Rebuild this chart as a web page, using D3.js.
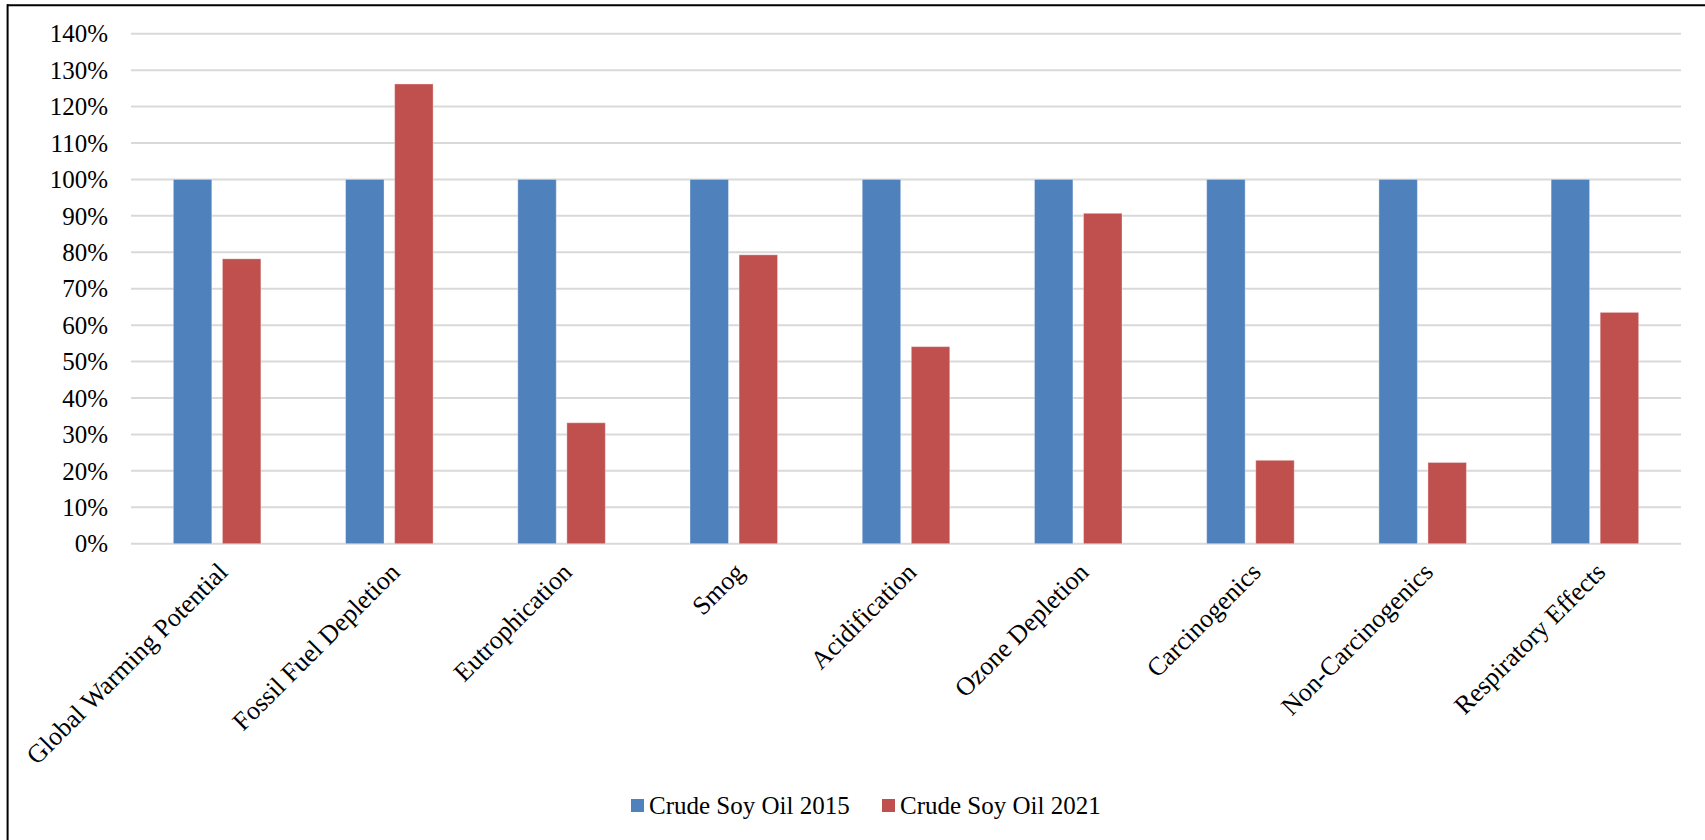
<!DOCTYPE html>
<html>
<head>
<meta charset="utf-8">
<script src="https://cdn.jsdelivr.net/npm/d3@7"></script>
<style>
  html, body { margin: 0; padding: 0; background: #fff; }
  svg { display: block; }
  text { font-family: "Liberation Serif", "DejaVu Serif", serif; fill: #000; }
</style>
</head>
<body>
<svg id="chart" width="1705" height="840"></svg>
<script>
const categories = ["Global Warming Potential", "Fossil Fuel Depletion", "Eutrophication", "Smog",
  "Acidification", "Ozone Depletion", "Carcinogenics", "Non-Carcinogenics", "Respiratory Effects"];
const seriesNames = ["Crude Soy Oil 2015", "Crude Soy Oil 2021"];
const values2015 = [1.00, 1.00, 1.00, 1.00, 1.00, 1.00, 1.00, 1.00, 1.00];
const values2021 = [0.782, 1.262, 0.332, 0.793, 0.541, 0.907, 0.229, 0.223, 0.635];
const yTicks = [0, 0.1, 0.2, 0.3, 0.4, 0.5, 0.6, 0.7, 0.8, 0.9, 1.0, 1.1, 1.2, 1.3, 1.4];
const colors = ["#4F81BD", "#C0504D"];

const svg = d3.select("#chart");
const plot = { left: 131, right: 1681, top: 33.7, bottom: 543.7 };

const x0 = d3.scaleBand().domain(categories).range([plot.left, plot.right]).paddingInner(0).paddingOuter(0);
const x1 = d3.scaleBand().domain(seriesNames).range([0, x0.bandwidth()]).paddingInner(0.216).paddingOuter(0.863);
const y = d3.scaleLinear().domain([0, 1.4]).range([plot.bottom, plot.top]);
const color = d3.scaleOrdinal().domain(seriesNames).range(colors);

// outer frame (only top and left visible)
svg.append("line").attr("x1", 7).attr("x2", 1705).attr("y1", 5.2).attr("y2", 5.2)
  .attr("stroke", "#000").attr("stroke-width", 2);
svg.append("line").attr("x1", 7.6).attr("x2", 7.6).attr("y1", 4.2).attr("y2", 840)
  .attr("stroke", "#000").attr("stroke-width", 2);

// gridlines
svg.append("g")
  .selectAll("line").data(yTicks).join("line")
  .attr("x1", plot.left).attr("x2", plot.right)
  .attr("y1", d => y(d)).attr("y2", d => y(d))
  .attr("stroke", "#d9d9d9").attr("stroke-width", 2);

// y axis labels
const yAxis = d3.axisLeft(y).tickValues(yTicks).tickFormat(d3.format(".0%")).tickSize(0).tickPadding(0);
const yg = svg.append("g").attr("transform", `translate(${108},0)`).call(yAxis);
yg.select(".domain").remove();
yg.selectAll("text").attr("font-size", 25).attr("font-family", "Liberation Serif, serif").attr("fill", "#000").attr("dy", "0.33em");

// bars
const data = categories.map((c, i) => ({ cat: c, vals: [
  { s: seriesNames[0], v: values2015[i] },
  { s: seriesNames[1], v: values2021[i] } ] }));

const groups = svg.append("g").selectAll("g").data(data).join("g")
  .attr("transform", d => `translate(${x0(d.cat)},0)`);
groups.selectAll("rect").data(d => d.vals).join("rect")
  .attr("x", d => x1(d.s))
  .attr("y", d => y(d.v))
  .attr("width", x1.bandwidth())
  .attr("height", d => y(0) - y(d.v))
  .attr("fill", d => color(d.s))
  .attr("stroke", "#ffffff").attr("stroke-opacity", 0.35).attr("stroke-width", 1);

// x axis labels rotated
const xAxis = d3.axisBottom(x0).tickSize(0).tickPadding(0);
const xg = svg.append("g").attr("transform", `translate(0,${plot.bottom})`).call(xAxis);
xg.select(".domain").remove();
xg.selectAll("text")
  .attr("font-size", 26).attr("font-family", "Liberation Serif, serif").attr("fill", "#000")
  .attr("text-anchor", "end")
  .attr("dy", 0).attr("y", 0)
  .attr("transform", "translate(12,30) rotate(-45)");

// legend
const legendItems = [
  { s: seriesNames[0], x: 631 },
  { s: seriesNames[1], x: 882 }
];
const lg = svg.append("g").selectAll("g").data(legendItems).join("g")
  .attr("transform", d => `translate(${d.x},${805.5})`);
lg.append("rect").attr("x", 0).attr("y", -6.5).attr("width", 13).attr("height", 13)
  .attr("fill", d => color(d.s));
lg.append("text").attr("x", 18).attr("y", 0).attr("dy", "0.34em")
  .attr("font-size", 25).text(d => d.s);
</script>
</body>
</html>
